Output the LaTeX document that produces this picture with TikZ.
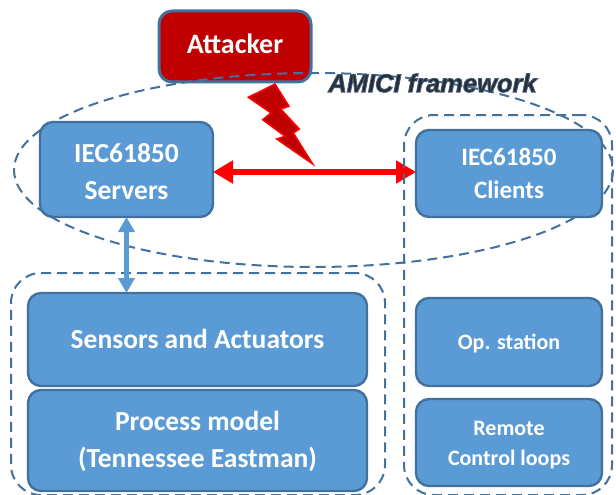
\documentclass[tikz,border=0pt]{standalone}
\usepackage{fontspec}
\setmainfont{Carlito}
\newfontfamily\framefont{Liberation Sans}
\usetikzlibrary{arrows.meta}
\definecolor{boxfill}{HTML}{5B9BD5}
\definecolor{boxline}{HTML}{41719C}
\definecolor{attfill}{HTML}{C00000}
\definecolor{textdark}{HTML}{1F2D3D}
\newcommand{\nudge}[3]{\raisebox{#1}[\dimexpr\height+#2\relax][\dimexpr\depth+#2\relax]{#3}}
\tikzset{
  x=1pt,y=-1pt,
  blockbox/.style={draw=boxline,line width=2.4pt,fill=boxfill,rounded corners=13pt,text=white,
    font=\bfseries,align=center,inner sep=0pt,outer sep=0pt,anchor=north west},
  dashbox/.style={draw=boxline,line width=2pt,dash pattern=on 10pt off 6pt},
  zonebox/.style={dashbox,rounded corners=30pt,inner sep=0pt,outer sep=0pt,anchor=north west},
  redarrow/.style={red,line width=5.5pt,{Triangle[length=20pt,width=22pt]}-{Triangle[length=20pt,width=22pt]}},
  bluearrow/.style={boxfill,line width=5pt,{Triangle[length=15pt,width=16pt]}-{Triangle[length=15pt,width=16pt]}},
  titletext/.style={font=\framefont\bfseries\itshape\fontsize{25.5}{30}\selectfont,inner sep=0pt}
}
\begin{document}
\begin{tikzpicture}
\useasboundingbox (0,0) rectangle (616,495);
% Attacker
\node[blockbox,fill=attfill,minimum width=152pt,minimum height=71pt,line width=3pt,
  font=\bfseries\fontsize{28}{32}\selectfont] (attacker) at (159,11) {\nudge{3pt}{3pt}{Attacker}};
% AMICI ellipse
\draw[dashbox] (313.5,170) ellipse [x radius=299.5,y radius=97];
% Left enclosure
\node[zonebox,minimum width=374pt,minimum height=222pt] (plantzone) at (11,273) {};
% Blocks
\node[blockbox,minimum width=173pt,minimum height=95pt,font=\bfseries\fontsize{27.5}{37}\selectfont] (servers) at (40,122)
  {\nudge{-4pt}{4pt}{\begin{tabular}{@{}c@{}}IEC61850\\Servers\end{tabular}}};
\node[blockbox,minimum width=186pt,minimum height=87pt,font=\bfseries\fontsize{25}{33}\selectfont] (clients) at (416,130)
  {\nudge{-1.5pt}{1.5pt}{\begin{tabular}{@{}c@{}}IEC61850\\Clients\end{tabular}}};
\node[blockbox,minimum width=339pt,minimum height=93pt,font=\bfseries\fontsize{27.5}{32}\selectfont] (sensors) at (28,293)
  {\nudge{1pt}{1pt}{Sensors and Actuators}};
\node[blockbox,minimum width=339pt,minimum height=101pt,font=\bfseries\fontsize{27.5}{37}\selectfont] (process) at (28,390)
  {\nudge{-1pt}{1pt}{\begin{tabular}{@{}c@{}}Process model\\(Tennessee Eastman)\end{tabular}}};
\node[blockbox,minimum width=186pt,minimum height=88pt,font=\bfseries\fontsize{22}{26}\selectfont] (opstation) at (416,298)
  {\nudge{-1.5pt}{1.5pt}{Op. station}};
\node[blockbox,minimum width=186pt,minimum height=87pt,font=\bfseries\fontsize{22}{30}\selectfont] (remote) at (416,399)
  {\nudge{-1.5pt}{1.5pt}{\begin{tabular}{@{}c@{}}Remote\\Control loops\end{tabular}}};
% Lightning
\draw[red,line width=1.5pt,fill=attfill,line join=miter]
  (248.3,97.3) -- (275,84) -- (289,106.3) -- (280.7,109) -- (299.3,129) -- (293.3,133) -- (312.7,164)
  -- (276.7,139) -- (285,136.3) -- (262.7,119.7) -- (271,113) -- cycle;
% Connectors
\coordinate (srvport) at ([yshift=-2.5pt]servers.east);
\coordinate (cliport) at (clients.west |- srvport);
\draw[redarrow] (srvport) -- (cliport);
% Right enclosure, over the arrow
\node[zonebox,minimum width=208pt,minimum height=380pt] (clientzone) at (404,115) {};
\draw[bluearrow] (servers.south) -- (servers.south |- sensors.north);
% Title: one text with a soft dark edge
\node[titletext,text=textdark] (title) at (432.5,83)
  {\special{pdf:code q 2 Tr 0.9 w 0.30 0.35 0.42 RG}AMICI framework\special{pdf:code Q}};
\end{tikzpicture}
\end{document}
